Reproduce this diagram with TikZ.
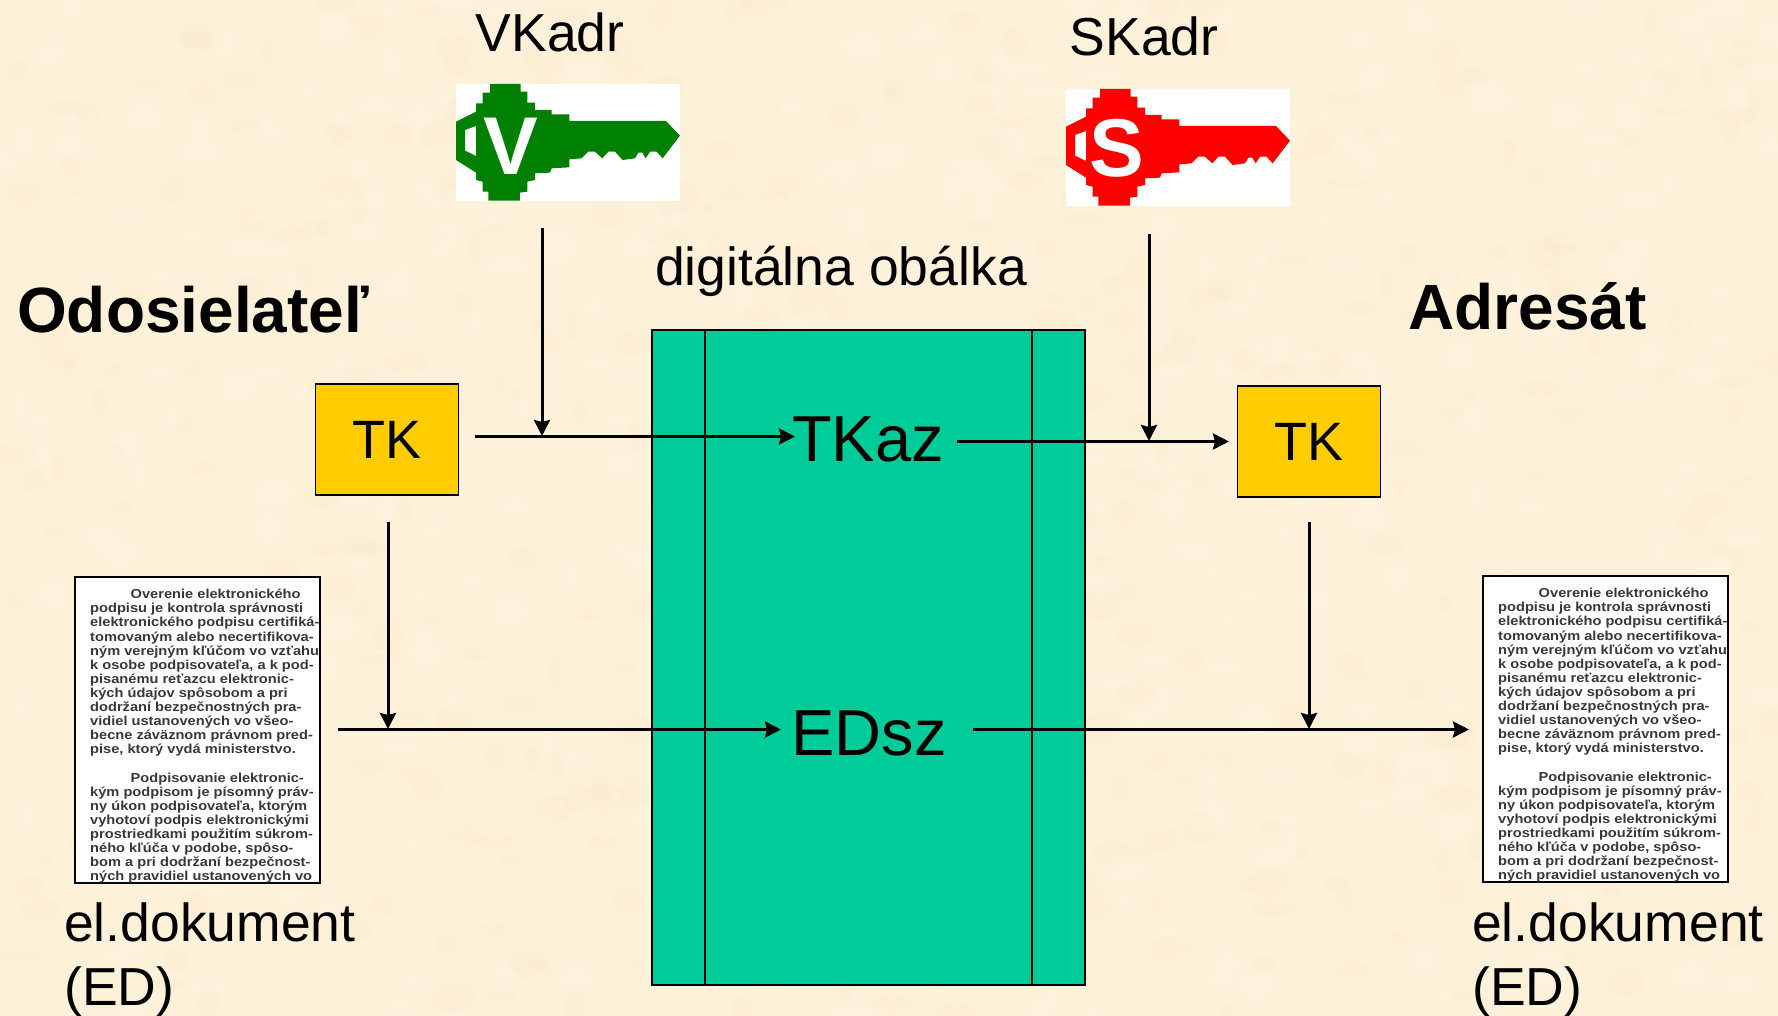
\documentclass[tikz,border=0pt]{standalone}
\usepackage{fontspec}
\setmainfont{Liberation Sans}
\usetikzlibrary{arrows.meta}
\definecolor{parch}{HTML}{FDF1D9}
\definecolor{parchd}{HTML}{F8E6BE}
\definecolor{parchl}{HTML}{FFF6E8}
\definecolor{envgreen}{HTML}{00CC99}
\definecolor{tkyellow}{HTML}{FFCC00}
\definecolor{keygreen}{HTML}{008000}
\definecolor{doctxt}{HTML}{383838}
\tikzset{
  x=1pt,y=-1pt,
  lab/.style={font=\fontsize{53.5}{53.5}\selectfont,inner sep=0pt,text=black},
  head/.style={font=\fontsize{64}{64}\selectfont\bfseries,inner sep=0pt,text=black},
  big/.style={font=\fontsize{65}{65}\selectfont,inner sep=0pt,text=black},
  tkbox/.style={draw=black,line width=1.9pt,fill=tkyellow,minimum width=143pt,minimum height=111pt,inner sep=0pt,font=\fontsize{54}{54}\selectfont},
  docbox/.style={draw=black,line width=2.4pt,fill=white,minimum width=245pt,minimum height=306pt,inner sep=0pt},
  doctext/.style={inner sep=0pt,anchor=north west,align=left,text=doctxt,xscale=1.125,transform shape,font=\fontsize{13}{14.1}\selectfont\bfseries},
  conn/.style={line width=3pt,draw=black},
  arr/.style={conn,-{Stealth[length=16pt,width=16pt,inset=2pt]}},
  keyletter/.style={text=white,inner sep=0pt,font=\fontsize{82}{82}\selectfont\bfseries},
}
\newcommand{\keyshape}[1]{%
  \fill[white] (48,0) rectangle (720,350);
  \fill[#1,even odd rule,shift={(0,-42)}]
   (150,42)--(242,42)--(242,65)--(262,65)--(262,98)--(285,98)--(285,120)--(335,120)--(335,133)--(388,133)--(388,153)--(678,153)--(720,197)--(668,265)--(650,245)--(630,245)--(617,265)--(607,248)--(595,248)--(585,265)--(548,270)--(525,245)--(505,245)--(487,265)--(465,245)--(445,245)--(425,265)--(388,268)--(388,292)--(335,295)--(330,308)--(285,310)--(285,330)--(262,335)--(262,365)--(240,368)--(240,392)--(145,392)--(145,365)--(128,365)--(128,335)--(108,330)--(108,308)--(48,270)--(48,155)--(108,125)--(108,100)--(128,100)--(128,68)--(150,68)--cycle
   (75,180)--(108,168)--(108,258)--(75,242)--cycle;
}
\newcommand{\doclines}{%
\hspace*{36pt}Overenie elektronického\\
podpisu je kontrola správnosti\\
elektronického podpisu certifiká-\\
tomovaným alebo necertifikova-\\
ným verejným kľúčom vo vzťahu\\
k osobe podpisovateľa, a k pod-\\
pisanému reťazcu elektronic-\\
kých údajov spôsobom a pri\\
dodržaní bezpečnostných pra-\\
vidiel ustanovených vo všeo-\\
becne záväznom právnom pred-\\
pise, ktorý vydá ministerstvo.\\[14.1pt]
\hspace*{36pt}Podpisovanie elektronic-\\
kým podpisom je písomný práv-\\
ny úkon podpisovateľa, ktorým\\
vyhotoví podpis elektronickými\\
prostriedkami použitím súkrom-\\
ného kľúča v podobe, spôso-\\
bom a pri dodržaní bezpečnost-\\
ných pravidiel ustanovených vo}
\begin{document}
\begin{tikzpicture}
\useasboundingbox (0,0) rectangle (1778,1016);
\begin{scope}
\clip (0,0) rectangle (1778,1016);
\fill[parch] (0,0) rectangle (1778,1016);
\pgfmathsetseed{42}
\foreach \i in {1,...,900}{
  \pgfmathsetmacro{\px}{random(0,1778)}
  \pgfmathsetmacro{\py}{random(0,1016)}
  \pgfmathsetmacro{\pw}{random(6,22)}
  \pgfmathsetmacro{\ph}{random(5,16)}
  \pgfmathtruncatemacro{\pc}{random(0,1)}
  \ifnum\pc=0
    \fill[parchd,opacity=.13] (\px,\py) ellipse[x radius=\pw,y radius=\ph];
  \else
    \fill[parchl,opacity=.2] (\px,\py) ellipse[x radius=\pw,y radius=\ph];
  \fi
}
\end{scope}

% envelope
\node[draw=black,line width=1.8pt,fill=envgreen,minimum width=433pt,minimum height=655pt,inner sep=0pt] (env) at (868.5,657.5) {};
\draw[line width=2pt] (704.5,330) -- (704.5,985);
\draw[line width=2pt] (1032,330) -- (1032,985);

% keys
\begin{scope}[shift={(440,84)},x=0.3333pt,y=-0.3333pt]
  \keyshape{keygreen}
\end{scope}
\node[keyletter] (vletter) at (511,146.5) {V};
\begin{scope}[shift={(1050,89)},x=0.3333pt,y=-0.3333pt]
  \keyshape{red}
\end{scope}
\node[keyletter] (sletter) at (1117,148) {S};

% labels
\node[lab] (vkadr) at (550,32) {VKadr};
\node[lab] (skadr) at (1144,36) {SKadr};
\node[lab] (obalka) at (841,271) {digitálna obálka};
\node[head,anchor=west] (odos) at (17,310) {Odosielateľ};
\node[head,anchor=west] (adres) at (1408,306) {Adresát};
\node[big] (tkaz) at (868,439) {TKaz};
\node[big] (edsz) at (869,733) {EDsz};

% boxes
\node[tkbox] (tkl) at (387,439.5) {TK};
\node[tkbox] (tkr) at (1309,441.5) {TK};

% documents
\node[docbox] (docl) at (197.5,730) {};
\node[doctext] (doclt) at (90,589) {\doclines};
\node[docbox] (docr) at (1605.5,729) {};
\node[doctext] (docrt) at (1498,588) {\doclines};

\node[lab,anchor=base west] (ell1) at (64,941) {el.dokument};
\node[lab,anchor=base west] (ell2) at (64,1005) {(ED)};
\node[lab,anchor=base west] (elr1) at (1472,941) {el.dokument};
\node[lab,anchor=base west] (elr2) at (1472,1005) {(ED)};

% connector ends
\coordinate (a1) at (475,436.5);
\coordinate (a2) at (795,436.5);
\coordinate (a3) at (542,228);
\coordinate (a4) at (542,436);
\coordinate (b1) at (957,441.5);
\coordinate (b2) at (1229,441.5);
\coordinate (b3) at (1149,234);
\coordinate (b4) at (1149,441);
\coordinate (c1) at (338,729.5);
\coordinate (c2) at (781,729.5);
\coordinate (c3) at (388,522);
\coordinate (c4) at (388,729);
\coordinate (d1) at (973,729.5);
\coordinate (d2) at (1469,729.5);
\coordinate (d3) at (1309,522);
\coordinate (d4) at (1309,729);

\draw[arr] (a1) -- (a2);
\draw[arr] (a3) -- (a4);
\draw[arr] (b1) -- (b2);
\draw[arr] (b3) -- (b4);
\draw[arr] (c1) -- (c2);
\draw[arr] (c3) -- (c4);
\draw[arr] (d1) -- (d2);
\draw[arr] (d3) -- (d4);
\end{tikzpicture}
\end{document}
